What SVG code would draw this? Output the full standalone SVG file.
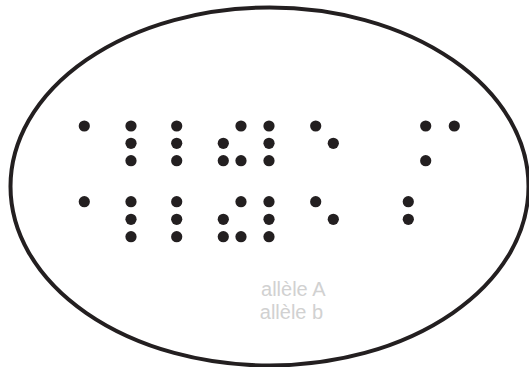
<svg xmlns="http://www.w3.org/2000/svg" width="529" height="367" viewBox="0 0 529 367">
<style>
.d{fill:#231f20}
.t{font-family:"Liberation Sans",Arial,sans-serif;font-size:20px;fill:#d1d1d1;text-anchor:middle}
</style>
<rect width="529" height="367" fill="#fff"/>
<g id="oval"><ellipse cx="269.5" cy="186.5" rx="259" ry="179" fill="none" stroke="#231f20" stroke-width="4"/></g>
<g id="braille-A">
<circle class="d" cx="84.3" cy="126" r="5.6"/>
<circle class="d" cx="131" cy="126" r="5.6"/><circle class="d" cx="131" cy="143.3" r="5.6"/><circle class="d" cx="131" cy="160.7" r="5.6"/>
<circle class="d" cx="176.7" cy="126" r="5.6"/><circle class="d" cx="176.7" cy="143.3" r="5.6"/><circle class="d" cx="176.7" cy="160.7" r="5.6"/>
<circle class="d" cx="241" cy="126" r="5.6"/><circle class="d" cx="223.3" cy="143.3" r="5.6"/><circle class="d" cx="223.3" cy="160.7" r="5.6"/><circle class="d" cx="241" cy="160.7" r="5.6"/>
<circle class="d" cx="269" cy="126" r="5.6"/><circle class="d" cx="269" cy="143.3" r="5.6"/><circle class="d" cx="269" cy="160.7" r="5.6"/>
<circle class="d" cx="315.7" cy="126" r="5.6"/><circle class="d" cx="333.3" cy="143.3" r="5.6"/>
<circle class="d" cx="425.7" cy="126" r="5.6"/><circle class="d" cx="425.7" cy="160.7" r="5.6"/>
<circle class="d" cx="454.3" cy="126" r="5.6"/>
</g>
<g id="braille-b">
<circle class="d" cx="84.3" cy="201.7" r="5.6"/>
<circle class="d" cx="131" cy="201.7" r="5.6"/><circle class="d" cx="131" cy="219.3" r="5.6"/><circle class="d" cx="131" cy="236.7" r="5.6"/>
<circle class="d" cx="176.7" cy="201.7" r="5.6"/><circle class="d" cx="176.7" cy="219.3" r="5.6"/><circle class="d" cx="176.7" cy="236.7" r="5.6"/>
<circle class="d" cx="241" cy="201.7" r="5.6"/><circle class="d" cx="223.3" cy="219.3" r="5.6"/><circle class="d" cx="223.3" cy="236.7" r="5.6"/><circle class="d" cx="241" cy="236.7" r="5.6"/>
<circle class="d" cx="269" cy="201.7" r="5.6"/><circle class="d" cx="269" cy="219.3" r="5.6"/><circle class="d" cx="269" cy="236.7" r="5.6"/>
<circle class="d" cx="315.7" cy="201.7" r="5.6"/><circle class="d" cx="333.3" cy="219.3" r="5.6"/>
<circle class="d" cx="408.3" cy="201.7" r="5.6"/><circle class="d" cx="408.3" cy="219.3" r="5.6"/>
</g>
<g id="labels">
<text class="t" x="293.3" y="295.7">allèle A</text>
<text class="t" x="291.5" y="319.3">allèle b</text>
</g>
</svg>
